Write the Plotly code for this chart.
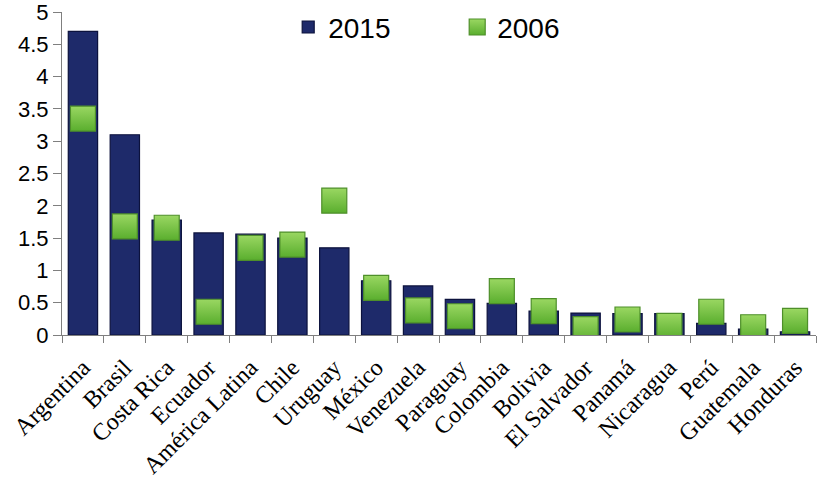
import plotly.graph_objects as go

categories = ["Argentina", "Brasil", "Costa Rica", "Ecuador", "América Latina", "Chile",
              "Uruguay", "México", "Venezuela", "Paraguay", "Colombia", "Bolivia",
              "El Salvador", "Panamá", "Nicaragua", "Perú", "Guatemala", "Honduras"]
values_2015 = [4.70, 3.10, 1.78, 1.58, 1.56, 1.50, 1.35, 0.84, 0.76, 0.55, 0.49, 0.37,
               0.34, 0.33, 0.33, 0.18, 0.09, 0.05]
values_2006 = [3.35, 1.68, 1.66, 0.36, 1.35, 1.40, 2.08, 0.73, 0.38, 0.29, 0.68, 0.37,
               0.09, 0.24, 0.14, 0.36, 0.12, 0.22]
y_ticks = [0, 0.5, 1, 1.5, 2, 2.5, 3, 3.5, 4, 4.5, 5]

fig = go.Figure()
fig.add_trace(go.Bar(
    x=categories, y=values_2015, name="2015",
    marker=dict(color="#1e2a6a", line=dict(color="#0c123d", width=1.2)),
    width=0.7,
))
fig.add_trace(go.Scatter(
    x=categories, y=values_2006, name="2006", mode="markers",
    marker=dict(symbol="square", size=25, color="#9ad762",
                gradient=dict(type="vertical", color="#5aae2e"),
                line=dict(color="#4e8f2a", width=1.2)),
))

fig.update_layout(
    width=819, height=487,
    margin=dict(l=62, r=3, t=12, b=152, autoexpand=False),
    plot_bgcolor="white", paper_bgcolor="white",
    showlegend=True,
    legend=dict(orientation="h", x=0.30, y=1.03, xanchor="left", yanchor="top",
                font=dict(family="Liberation Sans, Arial", size=28, color="black"),
                itemwidth=30, entrywidth=124, bgcolor="rgba(0,0,0,0)"),
    bargap=0.3,
)
fig.update_yaxes(range=[0, 5], tickvals=y_ticks, ticktext=[f"{v:g}" for v in y_ticks],
                 automargin=False, ticklabeloverflow="allow",
                 showgrid=False, zeroline=False,
                 showline=True, linecolor="#7f7f7f", linewidth=1,
                 ticks="outside", ticklen=8, tickcolor="#7f7f7f",
                 tickfont=dict(family="Liberation Sans, Arial", size=22, color="black"))
fig.update_xaxes(range=[-0.5, len(categories) - 0.5],
                 showgrid=False, showline=True, linecolor="#7f7f7f", linewidth=1,
                 automargin=False, ticklabeloverflow="allow",
                 ticks="outside", ticklen=7, tickcolor="#7f7f7f", tickson="boundaries",
                 tickangle=-45, ticklabelstandoff=8,
                 tickfont=dict(family="Liberation Serif, Times New Roman", size=24, color="black"))

fig.write_html("out.html", config={"displayModeBar": False},
               post_script="document.body.style.margin='0';")
